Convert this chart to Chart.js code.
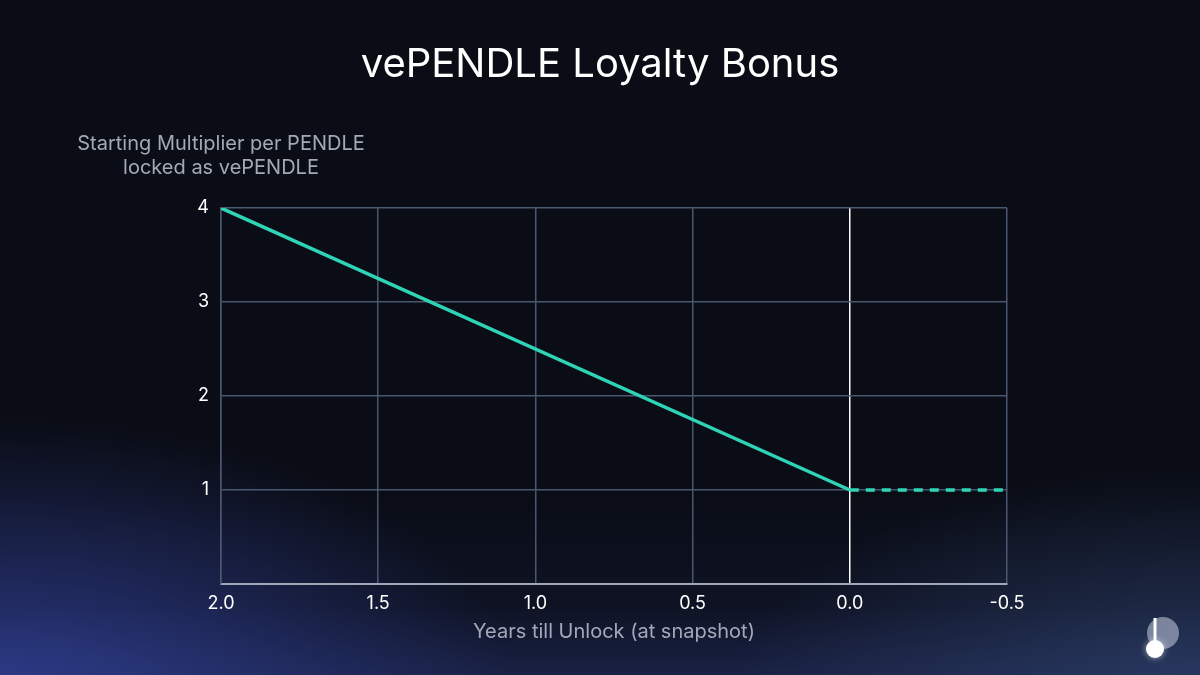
<!DOCTYPE html>
<html>
<head>
<meta charset="utf-8">
<script src="https://cdn.jsdelivr.net/npm/chart.js@4.4.1/dist/chart.umd.min.js"></script>
<style>
  html, body { margin: 0; padding: 0; }
  body {
    width: 1200px; height: 675px; overflow: hidden;
    background:
      radial-gradient(ellipse 520px 280px at 0px 700px, rgba(50,66,155,0.8), rgba(50,66,155,0) 100%),
      radial-gradient(ellipse 480px 230px at 1200px 700px, rgba(48,68,110,0.7), rgba(48,68,110,0) 100%),
      linear-gradient(to top, #192144 0px, rgba(18,24,48,0.5) 70px, rgba(10,13,22,0) 180px),
      #0a0d16;
  }
  #wrap { position: absolute; left: 0; top: 0; width: 1200px; height: 675px; }
</style>
</head>
<body>
<div id="wrap"><canvas id="canvas" width="1200" height="675"></canvas></div>
<script>
// data
var decayYears = [2.0, 0.0];
var decayMult = [4, 1];
var afterYears = [0.0, -0.5];
var afterMult = [1, 1];
var xTicks = [2.0, 1.5, 1.0, 0.5, 0.0, -0.5];
var yTicks = [1, 2, 3, 4];

var chartTitle = 'vePENDLE Loyalty Bonus';
var yTitle = ['Starting Multiplier per PENDLE', 'locked as vePENDLE'];
var xTitle = 'Years till Unlock (at snapshot)';

var teal = '#2fd4b6';
var gridCol = '#4a5770';
var fontFam = 'Inter, "Noto Sans", sans-serif';

function toPoints(xs, ys) {
    var pts = [];
    for (var i = 0; i < xs.length; i++) {
        pts.push({x: xs[i], y: ys[i]});
    }
    return pts;
}

// main title, y axis title above the axis, small logo in the corner
var extras = {
    id: 'extras',
    afterDraw: function (chart) {
        var ctx = chart.ctx;
        var area = chart.chartArea;
        ctx.save();
        ctx.textAlign = 'center';
        ctx.textBaseline = 'middle';
        ctx.fillStyle = '#ffffff';
        ctx.font = '40px ' + fontFam;
        ctx.fillText(chartTitle, chart.width / 2, 65);

        ctx.fillStyle = '#a3a9b8';
        ctx.font = '20px ' + fontFam;
        ctx.fillText(yTitle[0], area.left, 144);
        ctx.fillText(yTitle[1], area.left, 168);

        // logo
        ctx.fillStyle = 'rgba(200,205,225,0.55)';
        ctx.beginPath();
        ctx.arc(1163, 633, 16, 0, Math.PI * 2);
        ctx.fill();
        ctx.strokeStyle = '#ffffff';
        ctx.lineWidth = 3;
        ctx.beginPath();
        ctx.moveTo(1155, 618);
        ctx.lineTo(1155, 646);
        ctx.stroke();
        ctx.fillStyle = '#ffffff';
        ctx.shadowColor = 'rgba(255,255,255,0.6)';
        ctx.shadowBlur = 6;
        ctx.beginPath();
        ctx.arc(1155, 649, 9, 0, Math.PI * 2);
        ctx.fill();
        ctx.restore();
    }
};

var config = {
    type: 'line',
    data: {
        datasets: [{
            data: toPoints(decayYears, decayMult),
            borderColor: teal,
            borderWidth: 3.5,
            pointRadius: 0,
            fill: false
        }, {
            data: toPoints(afterYears, afterMult),
            borderColor: teal,
            borderWidth: 3.5,
            borderDash: [9, 7],
            pointRadius: 0,
            fill: false
        }]
    },
    options: {
        responsive: false,
        animation: false,
        layout: { padding: { left: 0, right: 193, top: 208, bottom: 0 } },
        plugins: {
            legend: { display: false },
            tooltip: { enabled: false },
            title: { display: false }
        },
        scales: {
            x: {
                type: 'linear',
                reverse: true,
                min: -0.5,
                max: 2.0,
                afterBuildTicks: function (scale) {
                    scale.ticks = xTicks.map(function (v) { return {value: v}; });
                },
                afterFit: function (scale) { scale.height = 91; },
                ticks: {
                    color: '#ffffff',
                    font: { family: fontFam, size: 18 },
                    padding: 9,
                    maxRotation: 0,
                    callback: function (v) { return Number(v).toFixed(1); }
                },
                grid: {
                    drawTicks: false,
                    lineWidth: 1.5,
                    color: function (c) {
                        if (c.tick && c.tick.value === 0) return '#ffffff';
                        return gridCol;
                    }
                },
                border: { color: '#a0a8b8', width: 2 },
                title: {
                    display: true,
                    text: xTitle,
                    color: '#a3a9b8',
                    font: { family: fontFam, size: 20 },
                    padding: { top: 0, bottom: 31 }
                }
            },
            y: {
                type: 'linear',
                min: 0,
                max: 4,
                afterBuildTicks: function (scale) {
                    scale.ticks = yTicks.map(function (v) { return {value: v}; });
                },
                afterFit: function (scale) { scale.width = 221; },
                ticks: {
                    color: '#ffffff',
                    font: { family: fontFam, size: 18 },
                    padding: 12
                },
                grid: {
                    drawTicks: false,
                    lineWidth: 1.5,
                    color: gridCol
                },
                border: { color: gridCol, width: 1.5 }
            }
        }
    },
    plugins: [extras]
};

window.onload = function () {
    var ctx = document.getElementById('canvas').getContext('2d');
    window.myLine = new Chart(ctx, config);
};
</script>
</body>
</html>
